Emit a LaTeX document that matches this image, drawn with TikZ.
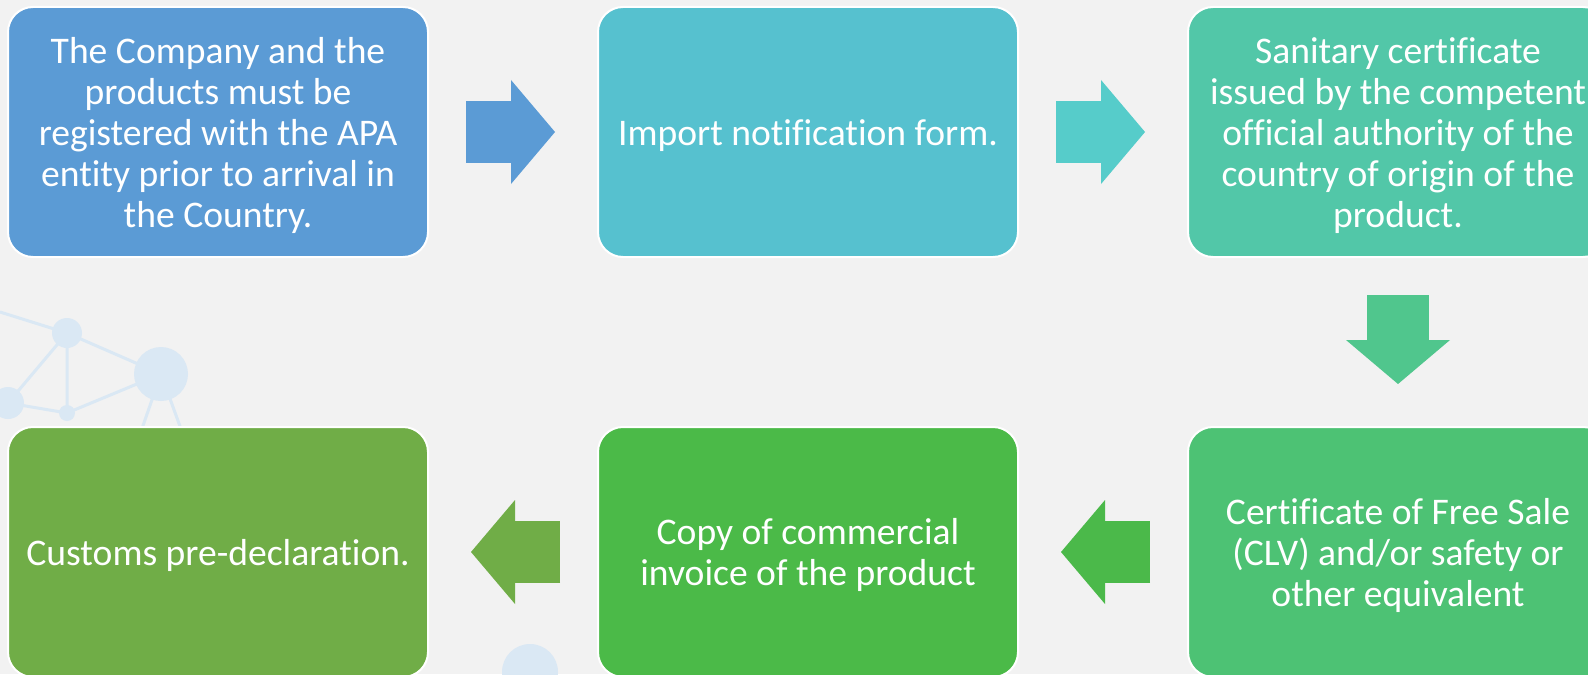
\documentclass[tikz,border=0pt]{standalone}
\usepackage{fontspec}
\setmainfont{Carlito}[Ligatures=NoCommon]
\usetikzlibrary{arrows.meta}
\definecolor{bgcol}{HTML}{F2F2F2}
\definecolor{netcol}{HTML}{DAE8F4}
\definecolor{stepA}{HTML}{5B9BD5}
\definecolor{stepB}{HTML}{56C1CF}
\definecolor{stepC}{HTML}{52C7A8}
\definecolor{stepD}{HTML}{4DC274}
\definecolor{stepE}{HTML}{4BBA48}
\definecolor{stepF}{HTML}{70AD47}
\definecolor{arrowA}{HTML}{5B9BD5}
\definecolor{arrowB}{HTML}{56CCCA}
\definecolor{arrowC}{HTML}{50C68D}
\definecolor{arrowD}{HTML}{4BB94A}
\definecolor{arrowE}{HTML}{70AD47}
\newcommand{\topline}{\rule{0pt}{19.5pt}}

\begin{document}
\begin{tikzpicture}[x=0.5pt,y=-0.5pt,
                stepbox/.style={draw=white,line width=1pt,rounded corners=12.5pt,
                    minimum width=210pt,minimum height=125pt,inner sep=0pt,
                    text=white,align=center,font=\fontsize{18.8pt}{20.5pt}\selectfont},
                blockarrow/.style={line width=31pt,
                    -{Triangle[length=22pt,width=52pt,line width=0pt]},
                    shorten <=18.5pt,shorten >=21pt},
                links/.style={draw=netcol,line width=1.5pt},
                dots/.style={fill=netcol}]
                \useasboundingbox (0,0) rectangle (1588,674);
                \clip (0,0) rectangle (1588,674);
                \fill[bgcol] (0,0) rectangle (1588,674);

                \draw[links] (0,312) -- (67,333) -- (161,374) -- (67,413) -- (8,403) -- (67,333) -- (67,413);
                \draw[links] (161,374) -- (138,440);
                \draw[links] (161,374) -- (185,440);
                \fill[dots] (67,333) circle[radius=15];
                \fill[dots] (161,374) circle[radius=27];
                \fill[dots] (67,413) circle[radius=8];
                \fill[dots] (8,403) circle[radius=16];
                \fill[dots] (530,672) circle[radius=28];

                \node[stepbox,fill=stepA] (company) at (218,132)
                    {\topline The Company and the\\products must be\\registered with the APA\\entity prior to arrival in\\the Country.\strut};
                \node[stepbox,fill=stepB] (notice) at (808,132)
                    {\topline Import notification form.\strut};
                \node[stepbox,fill=stepC] (sanitary) at (1398,132)
                    {\topline Sanitary certificate\\issued by the competent\\official authority of the\\country of origin of the\\product.\strut};
                \node[stepbox,fill=stepD] (freesale) at (1398,552)
                    {\topline Certificate of Free Sale\\(CLV) and/or safety or\\other equivalent\strut};
                \node[stepbox,fill=stepE] (invoice) at (808,552)
                    {\topline Copy of commercial\\invoice of the product\strut};
                \node[stepbox,fill=stepF] (customs) at (218,552)
                    {\topline Customs pre-declaration.\strut};

                \draw[blockarrow,draw=arrowA] (company) -- (notice);
                \draw[blockarrow,draw=arrowB] (notice) -- (sanitary);
                \draw[blockarrow,draw=arrowC] (sanitary) -- (freesale);
                \draw[blockarrow,draw=arrowD] (freesale) -- (invoice);
                \draw[blockarrow,draw=arrowE] (invoice) -- (customs);
            \end{tikzpicture}
\end{document}
